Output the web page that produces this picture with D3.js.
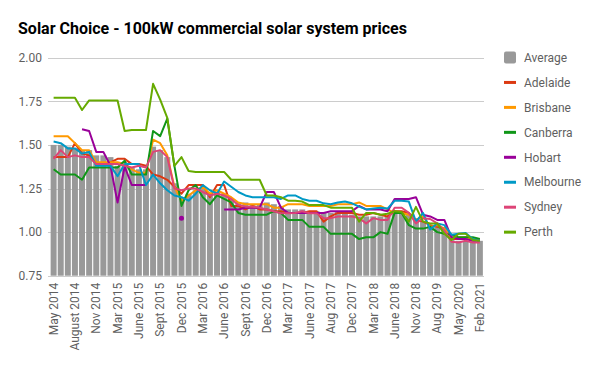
<!DOCTYPE html>
<html>
<head>
<meta charset="utf-8">
<script src="https://cdn.jsdelivr.net/npm/d3@7"></script>
<style>
  body { margin: 0; background: #fff; }
  svg { font-family: Roboto, "Noto Sans", sans-serif; }
</style>
</head>
<body>
<svg id="chart" width="600" height="371"></svg>
<script>
// category labels (only every 3rd one is shown on the axis)
var categories = [
  "May 2014", "June 2014", "July 2014", "August 2014", "Sept 2014", "Oct 2014",
  "Nov 2014", "Dec 2014", "Feb 2015", "Mar 2015", "Apr 2015", "May 2015",
  "June 2015", "July 2015", "Aug 2015", "Sept 2015", "Oct 2015", "Nov 2015",
  "Dec 2015", "Jan 2016", "Feb 2016", "Mar 2016", "Apr 2016", "May 2016",
  "June 2016", "July 2016", "Aug 2016", "Sept 2016", "Oct 2016", "Nov 2016",
  "Dec 2016", "Jan 2017", "Feb 2017", "Mar 2017", "Apr 2017", "May 2017",
  "June 2017", "July 2017", "Jul 2017", "Aug 2017", "Oct 2017", "Nov 2017",
  "Dec 2017", "Jan 2018", "Feb 2018", "Mar 2018", "Apr 2018", "May 2018",
  "June 2018", "Aug 2018", "Sept 2018", "Nov 2018", "Feb 2019", "May 2019",
  "Aug 2019", "Nov 2019", "Feb 2020", "May 2020", "Aug 2020", "Nov 2020",
  "Feb 2021"
];

var average = [
  1.50, 1.50, 1.49, 1.48, 1.47, 1.47, 1.44, 1.44, 1.43, 1.38, 1.38, 1.37,
  1.36, 1.36, 1.49, 1.47, 1.43, 1.28, 1.20, 1.22, 1.24, 1.25, 1.22, 1.23,
  1.22, 1.19, 1.17, 1.17, 1.16, 1.16, 1.17, 1.16, 1.15, 1.13, 1.13, 1.13,
  1.12, 1.12, 1.11, 1.11, 1.12, 1.12, 1.10, 1.09, 1.09, 1.09, 1.09, 1.09,
  1.12, 1.12, 1.10, 1.08, 1.06, 1.04, 1.04, 1.03, 0.96, 0.95, 0.95, 0.95,
  0.95
];
var adelaide = [
  1.43, 1.43, 1.43, 1.51, 1.45, 1.44, 1.39, 1.39, 1.40, 1.42, 1.42, 1.39,
  1.39, 1.38, 1.33, 1.32, 1.30, 1.26, 1.22, 1.27, 1.27, 1.27, 1.20, 1.27,
  1.27, 1.15, 1.15, 1.13, 1.15, 1.13, 1.13, 1.12, 1.12, 1.11, 1.11, 1.11,
  1.12, 1.12, 1.06, 1.09, 1.11, 1.11, 1.11, 1.10, 1.10, 1.11, 1.10, 1.09,
  1.12, 1.12, 1.11, 1.07, 1.06, 1.04, 1.03, 1.02, 0.96, 0.96, 0.97, 0.96,
  0.95
];
var brisbane = [
  1.55, 1.55, 1.55, 1.51, 1.47, 1.47, 1.40, 1.40, 1.40, 1.40, 1.39, 1.36,
  1.34, 1.34, 1.53, 1.51, 1.44, 1.26, 1.18, 1.21, 1.24, 1.26, 1.22, 1.24,
  1.22, 1.20, 1.17, 1.16, 1.16, 1.16, 1.16, 1.14, 1.14, 1.16, 1.16, 1.16,
  1.15, 1.15, 1.15, 1.15, 1.16, 1.16, 1.16, 1.17, 1.15, 1.15, 1.15, 1.13,
  1.11, 1.11, 1.10, 1.07, 1.09, 1.03, 1.04, 1.02, 0.97, 0.97, 0.97, 0.96,
  0.95
];
var canberra = [
  1.36, 1.33, 1.33, 1.33, 1.30, 1.37, 1.37, 1.37, 1.37, 1.37, 1.41, 1.33,
  1.33, 1.33, 1.58, 1.55, 1.65, 1.38, 1.15, 1.24, 1.27, 1.20, 1.16, 1.21,
  1.19, 1.17, 1.11, 1.10, 1.10, 1.10, 1.10, 1.12, 1.11, 1.07, 1.07, 1.07,
  1.03, 1.03, 1.03, 0.99, 0.99, 0.99, 0.99, 0.96, 0.97, 0.97, 1.00, 0.99,
  1.11, 1.11, 1.04, 1.02, 1.02, 1.03, 1.00, 0.99, 0.985, 0.97, 0.97, 0.97,
  0.96
];
var hobart = [
  null, null, null, null, 1.59, 1.58, 1.46, 1.46, 1.38, 1.17, 1.375, 1.27,
  1.27, 1.27, null, null, null, null, 1.08, null, null, null, null, null,
  1.13, 1.13, 1.13, 1.14, 1.14, 1.14, 1.23, 1.23, 1.14, 1.11, 1.11, 1.11,
  1.11, 1.11, 1.11, 1.12, 1.12, 1.12, 1.12, 1.15, 1.13, 1.13, 1.13, 1.12,
  1.19, 1.19, 1.19, 1.20, 1.10, 1.09, 1.07, 1.07, 0.97, 0.96, 0.96, 0.95,
  0.95
];
var melbourne = [
  1.52, 1.51, 1.48, 1.48, 1.45, 1.46, 1.38, 1.38, 1.38, 1.32, 1.39, 1.39,
  1.39, 1.27, 1.33, 1.28, 1.24, 1.21, 1.20, 1.18, 1.22, 1.27, 1.24, 1.22,
  1.29, 1.26, 1.23, 1.21, 1.20, 1.20, 1.20, 1.20, 1.19, 1.21, 1.21, 1.19,
  1.18, 1.18, 1.165, 1.16, 1.17, 1.175, 1.165, 1.146, 1.13, 1.135, 1.14, 1.135,
  1.18, 1.18, 1.175, 1.06, 1.11, 1.015, 1.05, 1.04, 0.985, 0.99, 0.995, 0.96,
  0.95
];
var sydney = [
  1.42, 1.47, 1.43, 1.44, 1.43, 1.43, 1.39, 1.39, 1.39, 1.39, 1.38, 1.37,
  1.38, 1.37, 1.46, 1.47, 1.43, 1.25, 1.24, 1.25, 1.25, 1.23, 1.21, 1.22,
  1.21, 1.19, 1.156, 1.146, 1.146, 1.14, 1.13, 1.12, 1.108, 1.108, 1.11, 1.12,
  1.108, 1.108, 1.08, 1.08, 1.09, 1.09, 1.09, 1.08, 1.05, 1.08, 1.07, 1.07,
  1.14, 1.14, 1.11, 1.05, 1.08, 1.075, 1.05, 1.01, 0.945, 0.94, 0.95, 0.94,
  0.94
];
var perth = [
  1.77, 1.77, 1.77, 1.77, 1.70, 1.755, 1.755, 1.755, 1.755, 1.755, 1.58, 1.585,
  1.585, 1.585, 1.85, 1.76, 1.655, 1.38, 1.43, 1.35, 1.345, 1.345, 1.345, 1.345,
  1.345, 1.30, 1.30, 1.30, 1.30, 1.30, 1.21, 1.21, 1.20, 1.18, 1.18, 1.175,
  1.155, 1.155, 1.155, 1.14, 1.14, 1.14, 1.14, 1.06, 1.11, 1.11, 1.10, 1.105,
  1.12, 1.115, 1.06, 1.145, 1.06, 1.05, 1.05, 0.99, 0.955, 0.99, 0.99, 0.955,
  0.95
];

var seriesNames = ["Adelaide", "Brisbane", "Canberra", "Hobart", "Melbourne", "Sydney", "Perth"];
var seriesValues = [adelaide, brisbane, canberra, hobart, melbourne, sydney, perth];
var seriesColors = ["#dc3912", "#ff9900", "#109618", "#990099", "#0099c6", "#dd4477", "#66aa00"];
var barColor = "#999999";
var yTicks = [0.75, 1.00, 1.25, 1.50, 1.75, 2.00];

var svg = d3.select("#chart");

var plot = { left: 48, right: 484, top: 57.7, bottom: 275.7 };

var x = d3.scaleBand()
    .domain(d3.range(categories.length))
    .range([49, 484.5])
    .paddingInner(0.16)
    .paddingOuter(0.23);

var y = d3.scaleLinear()
    .domain([0.75, 2.0])
    .range([plot.bottom, plot.top]);

// title
svg.append("text")
    .attr("x", 18)
    .attr("y", 34)
    .style("font-size", "16px")
    .style("font-weight", "bold")
    .style("fill", "#000")
    .text("Solar Choice - 100kW commercial solar system prices");

// gridlines
svg.append("g")
    .selectAll("line")
    .data(yTicks)
    .enter()
    .append("line")
    .attr("x1", plot.left)
    .attr("x2", plot.right)
    .attr("y1", d => Math.round(y(d)) + 0.5)
    .attr("y2", d => Math.round(y(d)) + 0.5)
    .attr("stroke", "#cccccc")
    .attr("stroke-width", 1);

// y labels
svg.append("g")
    .selectAll("text")
    .data(yTicks)
    .enter()
    .append("text")
    .attr("x", 42)
    .attr("y", d => y(d))
    .attr("dy", "0.35em")
    .attr("text-anchor", "end")
    .style("font-size", "12px")
    .style("fill", "#5f5f5f")
    .text(d => d3.format(".2f")(d));

// average bars
svg.append("g")
    .selectAll("rect")
    .data(average)
    .enter()
    .append("rect")
    .attr("x", (d, i) => x(i))
    .attr("y", d => y(d))
    .attr("width", x.bandwidth())
    .attr("height", d => y(0.75) - y(d))
    .attr("fill", barColor);

// city lines
var line = d3.line()
    .defined(d => d != null)
    .x((d, i) => x(i) + x.bandwidth() / 2)
    .y(d => y(d));

seriesValues.forEach(function(vals, k) {
    svg.append("path")
        .datum(vals)
        .attr("d", line)
        .attr("fill", "none")
        .attr("stroke", seriesColors[k])
        .attr("stroke-width", 2)
        .attr("stroke-linejoin", "round");

    // isolated points get a dot
    var lone = vals.map((v, i) => ({ v: v, i: i }))
        .filter(d => d.v != null && vals[d.i - 1] == null && vals[d.i + 1] == null);
    svg.append("g")
        .selectAll("circle")
        .data(lone)
        .enter()
        .append("circle")
        .attr("cx", d => x(d.i) + x.bandwidth() / 2)
        .attr("cy", d => y(d.v))
        .attr("r", 2.5)
        .attr("fill", seriesColors[k]);
});

// x axis labels, every 3rd category
var xAxis = d3.axisBottom(x)
    .tickValues(d3.range(0, categories.length, 3))
    .tickFormat(i => categories[i])
    .tickSize(0);

var xg = svg.append("g")
    .attr("transform", "translate(0," + plot.bottom + ")")
    .call(xAxis);
xg.select(".domain").remove();
xg.selectAll("text")
    .attr("x", -7)
    .attr("y", 0)
    .attr("dy", "0.35em")
    .attr("transform", "rotate(-90)")
    .style("text-anchor", "end")
    .style("font-size", "12px")
    .style("font-family", "Roboto, sans-serif")
    .style("fill", "#5f5f5f");

// legend
var legendNames = ["Average"].concat(seriesNames);
var legendColors = [barColor].concat(seriesColors);
var legend = svg.append("g");
legendNames.forEach(function(name, k) {
    var cy = 57.5 + k * 24.95;
    if (k === 0) {
        legend.append("rect")
            .attr("x", 504).attr("y", cy - 6)
            .attr("width", 12).attr("height", 12)
            .attr("rx", 2)
            .attr("fill", legendColors[k]);
    } else {
        legend.append("line")
            .attr("x1", 504).attr("x2", 516)
            .attr("y1", cy).attr("y2", cy)
            .attr("stroke", legendColors[k])
            .attr("stroke-width", 3);
    }
    legend.append("text")
        .attr("x", 524)
        .attr("y", cy)
        .attr("dy", "0.35em")
        .style("font-size", "12px")
        .style("fill", "#5f5f5f")
        .text(name);
});
</script>
</body>
</html>
